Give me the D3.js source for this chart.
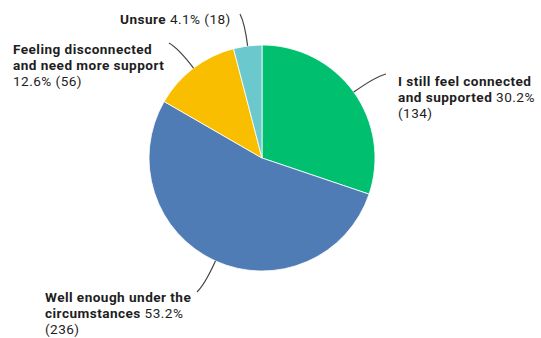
<!DOCTYPE html>
<html>
<head>
<meta charset="utf-8">
<script src="https://cdn.jsdelivr.net/npm/d3@7"></script>
<style>
  html, body { margin: 0; padding: 0; background: #fff; }
  svg { display: block; }
  text { font-family: Roboto, "Noto Sans", sans-serif; fill: #1e1e1e; }
</style>
</head>
<body>
<svg id="chart" width="541" height="338"></svg>
<script>
// ---- data ----
const categories = [
  "I still feel connected and supported",
  "Well enough under the circumstances",
  "Feeling disconnected and need more support",
  "Unsure"
];
const counts = [134, 236, 56, 18];
const percents = ["30.2%", "53.2%", "12.6%", "4.1%"];
const colors = ["#00BF6F", "#507CB6", "#F9BE00", "#6BC8CD"];
// label text lines: [boldPart, normalPart]
const labelLines = [
  [["I still feel connected", ""], ["and supported", " 30.2%"], ["", "(134)"]],
  [["Well enough under the", ""], ["circumstances", " 53.2%"], ["", "(236)"]],
  [["Feeling disconnected", ""], ["and need more support", ""], ["", "12.6% (56)"]],
  [["Unsure", " 4.1% (18)"]]
];

// ---- layout ----
const cx = 262, cy = 158, r = 113;
const fontSize = 13.6, lineH = 16.2, letterSp = 0.45;
// label anchors (text x, first baseline) and leader-line end points
const labelPos = [
  {x: 398, y: 85.5, ex: 386, ey: 74},
  {x: 45, y: 301.5, ex: 197, ey: 292},
  {x: 13, y: 53.5, ex: 169, ey: 43},
  {x: 120, y: 24, ex: 240, ey: 14}
];

const svg = d3.select("#chart");
const g = svg.append("g").attr("transform", `translate(${cx},${cy})`);

const pie = d3.pie().sort(null).value(d => d.count);
const data = categories.map((c, i) => ({cat: c, count: counts[i], i}));
const arcs = pie(data);
const arc = d3.arc().innerRadius(0).outerRadius(r);

g.selectAll("path.slice")
  .data(arcs)
  .join("path")
  .attr("class", "slice")
  .attr("d", arc)
  .attr("fill", d => colors[d.data.i])
  .attr("stroke", "#fff")
  .attr("stroke-width", 0.8);

// leader lines
arcs.forEach(a => {
  const i = a.data.i;
  const mid = (a.startAngle + a.endAngle) / 2;
  const lp = labelPos[i];
  const sx = cx + r * Math.sin(mid), sy = cy - r * Math.cos(mid);
  const dist = Math.hypot(lp.ex - sx, lp.ey - sy);
  const k = dist * 0.7;
  const c1x = sx + k * Math.sin(mid), c1y = sy - k * Math.cos(mid);
  const p = d3.path();
  p.moveTo(sx, sy);
  p.quadraticCurveTo(c1x, c1y, lp.ex, lp.ey);
  svg.append("path")
    .attr("d", p.toString())
    .attr("fill", "none")
    .attr("stroke", "#444")
    .attr("stroke-width", 1.2);
});

// labels
labelLines.forEach((lines, i) => {
  const lp = labelPos[i];
  const t = svg.append("text")
    .attr("font-size", fontSize)
    .attr("letter-spacing", letterSp);
  lines.forEach((ln, j) => {
    const first = t.append("tspan")
      .attr("x", lp.x)
      .attr("y", lp.y + j * lineH);
    if (ln[0]) {
      first.attr("font-weight", "bold").text(ln[0]);
      if (ln[1]) t.append("tspan").text(ln[1]);
    } else {
      first.text(ln[1]);
    }
  });
});
</script>
</body>
</html>
